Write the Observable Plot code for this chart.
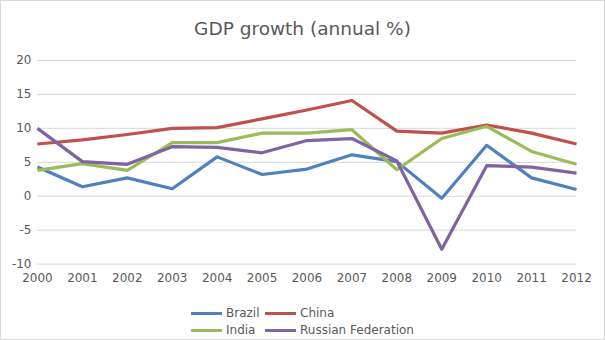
<!DOCTYPE html>
<html>
<head>
<meta charset="utf-8">
<script src="https://cdn.jsdelivr.net/npm/d3@7"></script>
<script src="https://cdn.jsdelivr.net/npm/@observablehq/plot@0.6"></script>
<style>
  html, body { margin: 0; padding: 0; background: #fff; }
  #wrap { position: relative; width: 605px; height: 340px; box-sizing: border-box; border: 1px solid #d9d9d9; overflow: hidden; font-family: "DejaVu Sans", sans-serif; color: #595959; }
  #title { position: absolute; left: 0; top: 17px; width: 603px; text-align: center; font-size: 18.5px; }
  #chart { position: absolute; left: -1px; top: 44px; }
  .leg { position: absolute; font-size: 12px; line-height: 14px; display: flex; align-items: center; }
  .leg span.sw { display: inline-block; width: 31px; height: 3px; margin-right: 4px; }
</style>
</head>
<body>
<div id="wrap">
  <div id="title">GDP growth (annual %)</div>
  <div id="chart"></div>
  <div id="legend"></div>
</div>
<script>
const years = [2000,2001,2002,2003,2004,2005,2006,2007,2008,2009,2010,2011,2012];
const seriesNames = ["Brazil","China","India","Russian Federation"];
const brazil = [4.3,1.4,2.7,1.1,5.8,3.2,4.0,6.1,5.1,-0.3,7.5,2.7,1.0];
const china  = [7.7,8.3,9.1,10.0,10.1,11.4,12.7,14.1,9.6,9.3,10.5,9.3,7.7];
const india  = [3.8,4.8,3.8,7.9,7.9,9.3,9.3,9.8,3.9,8.5,10.3,6.6,4.7];
const russia = [10.0,5.1,4.7,7.3,7.2,6.4,8.2,8.5,5.2,-7.8,4.5,4.3,3.4];
const yTicks = [-10,-5,0,5,10,15,20];
const colors = ["#4F81BD","#C0504D","#9BBB59","#8064A2"];

const valuesBySeries = [brazil, china, india, russia];
const data = [];
seriesNames.forEach((s, i) => years.forEach((y, j) => data.push({series: s, year: y, value: valuesBySeries[i][j]})));

const chart = Plot.plot({
  width: 605,
  height: 250,
  marginLeft: 37,
  marginRight: 28,
  marginTop: 15,
  marginBottom: 31,
  style: {fontFamily: "DejaVu Sans, sans-serif", fontSize: "12px", color: "#595959", background: "transparent"},
  x: {domain: [2000, 2012], ticks: years, tickFormat: d => String(d), tickSize: 0, tickPadding: 9, label: null},
  y: {domain: [-10, 20], ticks: yTicks, tickFormat: d => String(d), tickSize: 0, tickPadding: 6, label: null},
  color: {domain: seriesNames, range: colors},
  marks: [
    Plot.ruleY(yTicks, {stroke: "#d9d9d9", strokeWidth: 1, strokeOpacity: 1}),
    Plot.line(data, {x: "year", y: "value", stroke: "series", z: "series", strokeWidth: 3.2, strokeLinejoin: "round", strokeLinecap: "butt"})
  ]
});
document.getElementById("chart").appendChild(chart);

// Legend (two columns, two rows)
const legPos = [[190, 305], [264, 305], [190, 322], [264, 322]];
const legend = document.getElementById("legend");
seriesNames.forEach((s, i) => {
  const d = document.createElement("div");
  d.className = "leg";
  d.style.left = legPos[i][0] + "px";
  d.style.top = legPos[i][1] + "px";
  d.innerHTML = `<span class="sw" style="background:${colors[i]}"></span><span>${s}</span>`;
  legend.appendChild(d);
});
</script>
</body>
</html>
